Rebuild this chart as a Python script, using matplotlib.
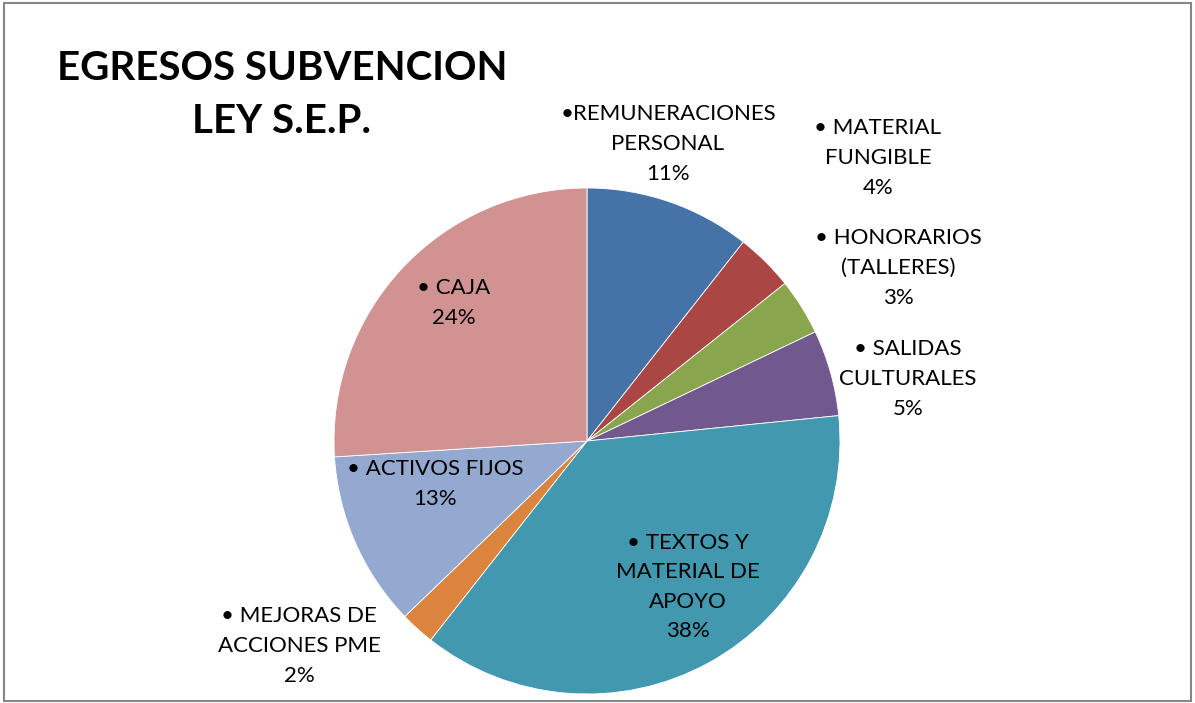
import matplotlib.pyplot as plt
from matplotlib.patches import Rectangle

plt.rcParams['font.family'] = ['Lato', 'DejaVu Sans']

# slice sizes, clockwise from 12 o'clock
categories = ['REMUNERACIONES PERSONAL', 'MATERIAL FUNGIBLE', 'HONORARIOS (TALLERES)',
              'SALIDAS CULTURALES', 'TEXTOS Y MATERIAL DE APOYO', 'MEJORAS DE ACCIONES PME',
              'ACTIVOS FIJOS', 'CAJA']
values = [10.6, 3.7, 3.6, 5.5, 37.2, 2.2, 11.2, 26.0]
pct_labels = ['11%', '4%', '3%', '5%', '38%', '2%', '13%', '24%']
colors = ['#4572A7', '#AA4643', '#89A54E', '#71588F', '#4198AF', '#DB843D', '#93A9CF', '#D19392']

# label text as it is broken into lines on the chart
label_lines = [
    ['\u2022REMUNERACIONES', 'PERSONAL'],
    ['\u2022 MATERIAL', 'FUNGIBLE'],
    ['\u2022 HONORARIOS', '(TALLERES)'],
    ['\u2022 SALIDAS', 'CULTURALES'],
    ['\u2022 TEXTOS Y', 'MATERIAL DE', 'APOYO'],
    ['\u2022 MEJORAS DE', 'ACCIONES PME'],
    ['\u2022 ACTIVOS FIJOS'],
    ['\u2022 CAJA'],
]

W, H = 1195, 703
fig = plt.figure(figsize=(W / 100, H / 100), dpi=100)
ax = fig.add_axes([0, 0, 1, 1])

# work in pixel units, y pointing up
cx, cy, r = 587, H - 441, 253
ax.pie(values, colors=colors, startangle=90, counterclock=False,
       center=(cx, cy), radius=r,
       wedgeprops=dict(edgecolor='white', linewidth=0.6))
ax.set_xlim(0, W)
ax.set_ylim(0, H)
ax.set_aspect('equal')
ax.axis('off')

# label centres in pixels (x, y from top)
label_pos = [(668, 144), (878, 158), (898, 268), (908, 379),
             (688, 587), (299, 646), (435, 484), (454, 303)]
for lines, pct, (x, y) in zip(label_lines, pct_labels, label_pos):
    txt = '\n'.join(lines + [pct])
    ax.text(x, H - y, txt, ha='center', va='center', fontsize=16,
            linespacing=1.6, color='black')

# title
ax.text(282, H - 95, 'EGRESOS SUBVENCION\nLEY S.E.P.', ha='center', va='center',
        fontsize=29, fontweight='bold', linespacing=1.52)

# chart area border
fig.patches.append(Rectangle((4 / W, 2 / H), 1 - 8 / W, 1 - 5 / H, transform=fig.transFigure,
                             fill=False, edgecolor='#868686', linewidth=1.5))

fig.savefig('out.png', dpi=100)
